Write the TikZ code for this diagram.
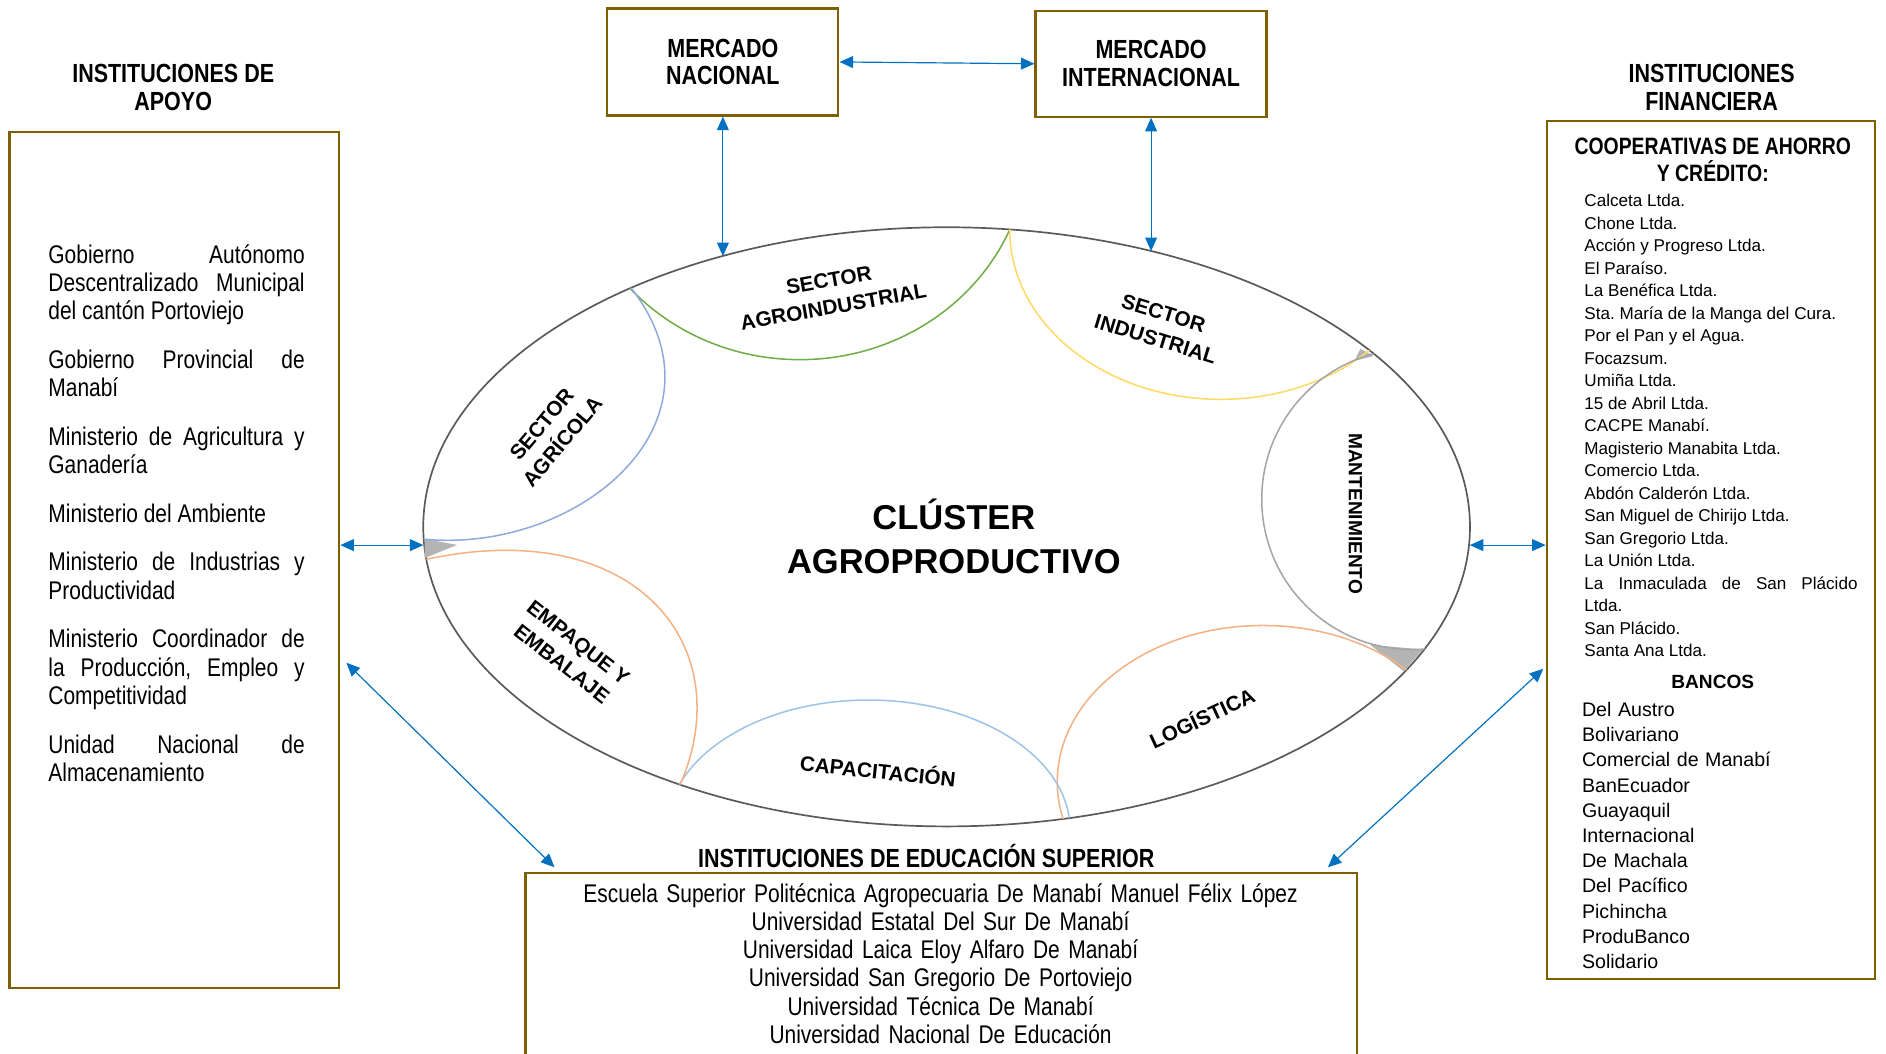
\documentclass[tikz,border=0pt]{standalone}
\usepackage{fontspec}
\setmainfont{Liberation Sans}
\newfontfamily\narrowfont[FakeStretch=0.82]{Liberation Sans}
\usepackage{xcolor}
\usepackage{tikz}
\usetikzlibrary{shapes,arrows,positioning,calc,arrows.meta}

\definecolor{boxgold}{HTML}{7F6000}
\definecolor{linkblue}{HTML}{0070C0}
\definecolor{rimgray}{HTML}{5A5A5A}
\definecolor{agrogreen}{HTML}{70AD47}
\definecolor{indyellow}{HTML}{FFD966}
\definecolor{mantgray}{HTML}{A5A5A5}
\definecolor{peach}{HTML}{F4B183}
\definecolor{capblue}{HTML}{9DC3E6}
\definecolor{agriblue}{HTML}{8FAADC}
\definecolor{wedgegray}{HTML}{B4B4B4}

\frenchspacing

\begin{document}
\begin{tikzpicture}[x=0.025cm, y=-0.025cm,
    box/.style={draw=boxgold, line width=1.3pt, inner sep=0pt},
    link/.style={linkblue, line width=0.7pt, {Triangle[length=8pt,width=7pt]}-{Triangle[length=8pt,width=7pt]}},
    headfont/.style={font=\narrowfont\bfseries\fontsize{15.5}{16.4}\selectfont, align=center},
    sector/.style={font=\bfseries\fontsize{12.3}{16}\selectfont, align=center, inner sep=0pt},
    rimarc/.style={line width=0.9pt}]
    \useasboundingbox (0,0) rectangle (1568,876);
    \clip (0,0) rectangle (1568,876);

    % Instituciones de apoyo
    \node[headfont] (apoyohead) at (144,72.5) {INSTITUCIONES DE\\APOYO};
    \node[box, minimum width=6.85cm, minimum height=17.775cm] (apoyo) at (145,465.5) {};
    \node[anchor=base west, text width=5.325cm, align=justify, inner sep=0pt, font=\narrowfont\fontsize{15.1}{16.7}\selectfont] (apoyotxt) at (40,218.7) {%
        \setlength{\parskip}{12.1pt}\hyphenpenalty=10000
        Gobierno Autónomo\linebreak Descentralizado Municipal\linebreak del cantón Portoviejo\par
        Gobierno Provincial de\linebreak Manabí\par
        Ministerio de Agricultura y\linebreak Ganadería\par
        Ministerio del Ambiente\par
        Ministerio de Industrias y\linebreak Productividad\par
        Ministerio Coordinador de\linebreak la Producción, Empleo y\linebreak Competitividad\par
        Unidad Nacional de\linebreak Almacenamiento};

    % Mercados
    \node[box, headfont, minimum width=4.8cm, minimum height=2.225cm] (nacional) at (601,51.5) {MERCADO\\NACIONAL};
    \node[box, headfont, minimum width=4.8cm, minimum height=2.2cm] (internacional) at (957,53) {MERCADO\\INTERNACIONAL};

    % Instituciones financieras
    \node[headfont] (finhead) at (1423,72.5) {INSTITUCIONES\\FINANCIERA};
    \node[box, minimum width=6.825cm, minimum height=17.825cm] (fin) at (1422.5,457.5) {};
    \node[font=\narrowfont\bfseries\fontsize{14}{15.6}\selectfont, align=center] (coophead) at (1424,133) {COOPERATIVAS DE AHORRO\\Y CRÉDITO:};
    \node[anchor=base west, text width=5.675cm, align=justify, inner sep=0pt, font=\fontsize{10.1}{13.3}\selectfont] (cooplist) at (1317,172) {%
        Calceta Ltda.\\ Chone Ltda.\\ Acción y Progreso Ltda.\\ El Paraíso.\\ La Benéfica Ltda.\\
        Sta. María de la Manga del Cura.\\ Por el Pan y el Agua.\\ Focazsum.\\ Umiña Ltda.\\
        15 de Abril Ltda.\\ CACPE Manabí.\\ Magisterio Manabita Ltda.\\ Comercio Ltda.\\
        Abdón Calderón Ltda.\\ San Miguel de Chirijo Ltda.\\ San Gregorio Ltda.\\ La Unión Ltda.\\
        La Inmaculada de San Plácido\linebreak Ltda.\\ San Plácido.\\ Santa Ana Ltda.};
    \node[font=\bfseries\fontsize{11.3}{13}\selectfont] (bancohead) at (1424,567) {BANCOS};
    \node[anchor=base west, text width=5.5cm, inner sep=0pt, font=\fontsize{11.6}{14.9}\selectfont] (bancolist) at (1315,595.7) {%
        Del Austro\\ Bolivariano\\ Comercial de Manabí\\ BanEcuador\\ Guayaquil\\ Internacional\\
        De Machala\\ Del Pacífico\\ Pichincha\\ ProduBanco\\ Solidario};

    % Educacion superior
    \node[headfont] (eduhead) at (770,712) {INSTITUCIONES DE EDUCACIÓN SUPERIOR};
    \node[box, minimum width=17.275cm, minimum height=4.35cm] (edu) at (782.5,813) {};
    \node[anchor=base, text width=17cm, align=center, inner sep=0pt, font=\narrowfont\fontsize{15.1}{16.6}\selectfont] (edutxt) at (782,750.5) {%
        Escuela Superior Politécnica Agropecuaria De Manabí Manuel Félix López\\
        Universidad Estatal Del Sur De Manabí\\ Universidad Laica Eloy Alfaro De Manabí\\
        Universidad San Gregorio De Portoviejo\\ Universidad Técnica De Manabí\\
        Universidad Nacional De Educación};

    % Cluster
    \node[draw=rimgray, line width=1pt, ellipse, minimum width=21.75cm, minimum height=12.45cm, inner sep=0pt] (cluster) at (787,438) {};
    \fill[wedgegray] (353,448) -- (380,453) -- (353,464) -- cycle;
    \fill[wedgegray] (1131,290) -- (1142,296) -- (1126,300) -- cycle;
    \fill[wedgegray] (1139,536) -- (1183,540) -- (1167,558) -- cycle;
    \begin{scope}
        \clip (cluster.center) ellipse [x radius=435, y radius=249];
        \draw[agrogreen, rimarc] (665,120) ellipse [x radius=190, y radius=179];
        \draw[indyellow, rimarc] (1015,191) ellipse [x radius=175.5, y radius=141];
        \draw[mantgray, rimarc] (1174,415) circle [radius=125];
        \draw[peach, rimarc] (1050,650) ellipse [x radius=171, y radius=130];
        \draw[capblue, rimarc] (722,690) ellipse [x radius=167.7, y radius=108];
        \draw[peach, rimarc] (562,660) .. controls (620,540) and (530,425) .. (350,466);
        \draw[agriblue, rimarc] (350,448) .. controls (480,462) and (615,350) .. (522,236);
    \end{scope}
    \node[font=\bfseries\fontsize{20.4}{25.6}\selectfont, align=center] (titulo) at (793,446) {CLÚSTER\\AGROPRODUCTIVO};

    % Sectores
    \node[sector, rotate=10] (agroind) at (691,244) {SECTOR\\AGROINDUSTRIAL};
    \node[sector, rotate=-17] (industrial) at (964,271) {SECTOR\\INDUSTRIAL};
    \node[sector, font=\bfseries\fontsize{11.3}{14}\selectfont, rotate=-90] (mant) at (1127,427) {MANTENIMIENTO};
    \node[sector, rotate=25] (logistica) at (999,596) {LOGÍSTICA};
    \node[sector, rotate=-6] (capacitacion) at (730,640) {CAPACITACIÓN};
    \node[sector, rotate=-38] (empaque) at (474,543) {EMPAQUE Y\\EMBALAJE};
    \node[sector, rotate=50] (agricola) at (459,360) {SECTOR\\AGRÍCOLA};

    % Conexiones
    \draw[link] (nacional.east) -- (internacional.west);
    \draw[link] (nacional.south) -- (nacional.south |- cluster.130);
    \draw[link] (internacional.south) -- (internacional.south |- cluster.53);
    \draw[link] (cluster.182 -| apoyo.east) -- (cluster.182);
    \draw[link] (cluster.-2) -- (cluster.-2 -| fin.west);
    \draw[link] ($(apoyo.east)+(5,85.5)$) -- ($(edu.north west)+(25,-4)$);
    \draw[link] ($(fin.west)+(-2,98.5)$) -- ($(edu.north east)+(-25,-4)$);
\end{tikzpicture}
\end{document}
